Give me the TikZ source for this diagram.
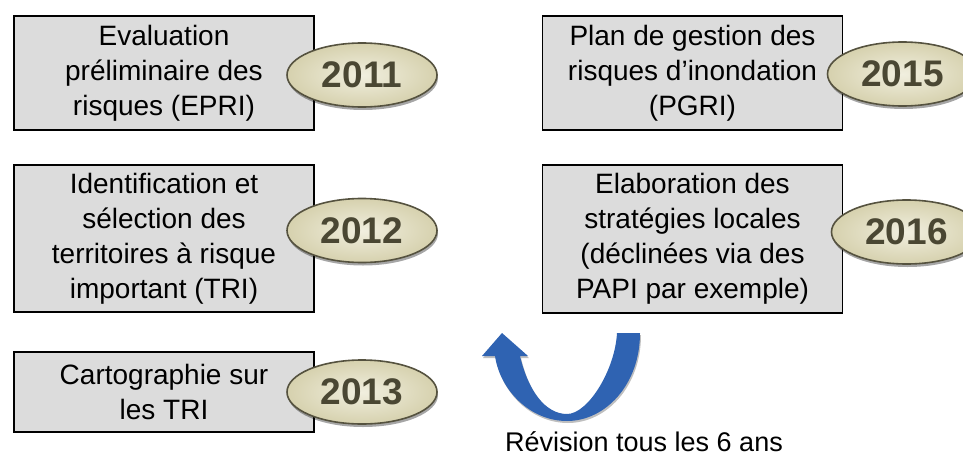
\documentclass[tikz,border=0pt]{standalone}
\usepackage{fontspec}
\setmainfont{Liberation Sans}
\usetikzlibrary{positioning,shapes.geometric,shadows}
\definecolor{boxgray}{HTML}{DCDCDC}
\definecolor{yearin}{HTML}{F1EFDF}
\definecolor{yearout}{HTML}{D6D1AE}
\definecolor{yearline}{HTML}{55523F}
\definecolor{yeartext}{HTML}{4A4733}
\definecolor{loopblue}{HTML}{2F63B2}

\begin{document}
\begin{tikzpicture}[x=1pt,y=-1pt,node distance=0pt,
        block/.style={draw=black,line width=1.8pt,fill=boxgray,minimum width=300pt,
          align=center,inner sep=0pt,outer sep=0pt,font=\fontsize{28}{35}\selectfont},
        year/.style={ellipse,draw=yearline,line width=1.6pt,inner color=yearin,outer color=yearout,
          minimum width=150pt,minimum height=64pt,inner sep=0pt,outer sep=0pt,text=yeartext,
          font=\fontsize{37}{37}\selectfont\bfseries,
          drop shadow={shadow xshift=1pt,shadow yshift=-3pt,opacity=.35,fill=black}}]
   \useasboundingbox (0,0) rectangle (963,455);

   \node (EPRI) [block,minimum height=114pt] at (164,73) {Evaluation\\préliminaire des\\risques (EPRI)};
   \node (TRI) [block,minimum height=147pt] at (164,238.5) {Identification et\\sélection des\\territoires à risque\\important (TRI)};
   \node (CARTO) [block,minimum height=80pt] at (164,392) {Cartographie sur\\les TRI};
   \node (PGRI) [block,minimum height=114pt] at (692.5,73) {Plan de gestion des\\risques d’inondation\\(PGRI)};
   \node (SLGRI) [block,minimum height=148pt] at (692.5,239) {Elaboration des\\stratégies locales\\(déclinées via des\\PAPI par exemple)};

   \node (Y11) [year,right=-27pt of EPRI,yshift=-2pt] {2011};
   \node (Y12) [year,right=-27pt of TRI,yshift=8pt] {2012};
   \node (Y13) [year,right=-27pt of CARTO] {2013};
   \node (Y15) [year,right=-15pt of PGRI,yshift=-1pt] {2015};
   \node (Y16) [year,right=-11pt of SLGRI,yshift=7pt] {2016};

   \fill[loopblue,drop shadow={shadow xshift=1pt,shadow yshift=-2pt,opacity=.25,fill=black}]
     (640,333) .. controls (640,385) and (605,421) .. (567,421)
     .. controls (530,421) and (500,390) .. (495,356)
     -- (482,356) -- (502,333) -- (528,356) -- (520,356)
     .. controls (528,390) and (545,414) .. (567,414)
     .. controls (588,414) and (615,370) .. (617,333) -- cycle;
   \node (REV) [anchor=base,font=\fontsize{27}{30}\selectfont] at (644,451) {Révision tous les 6 ans};

\end{tikzpicture}
\end{document}
